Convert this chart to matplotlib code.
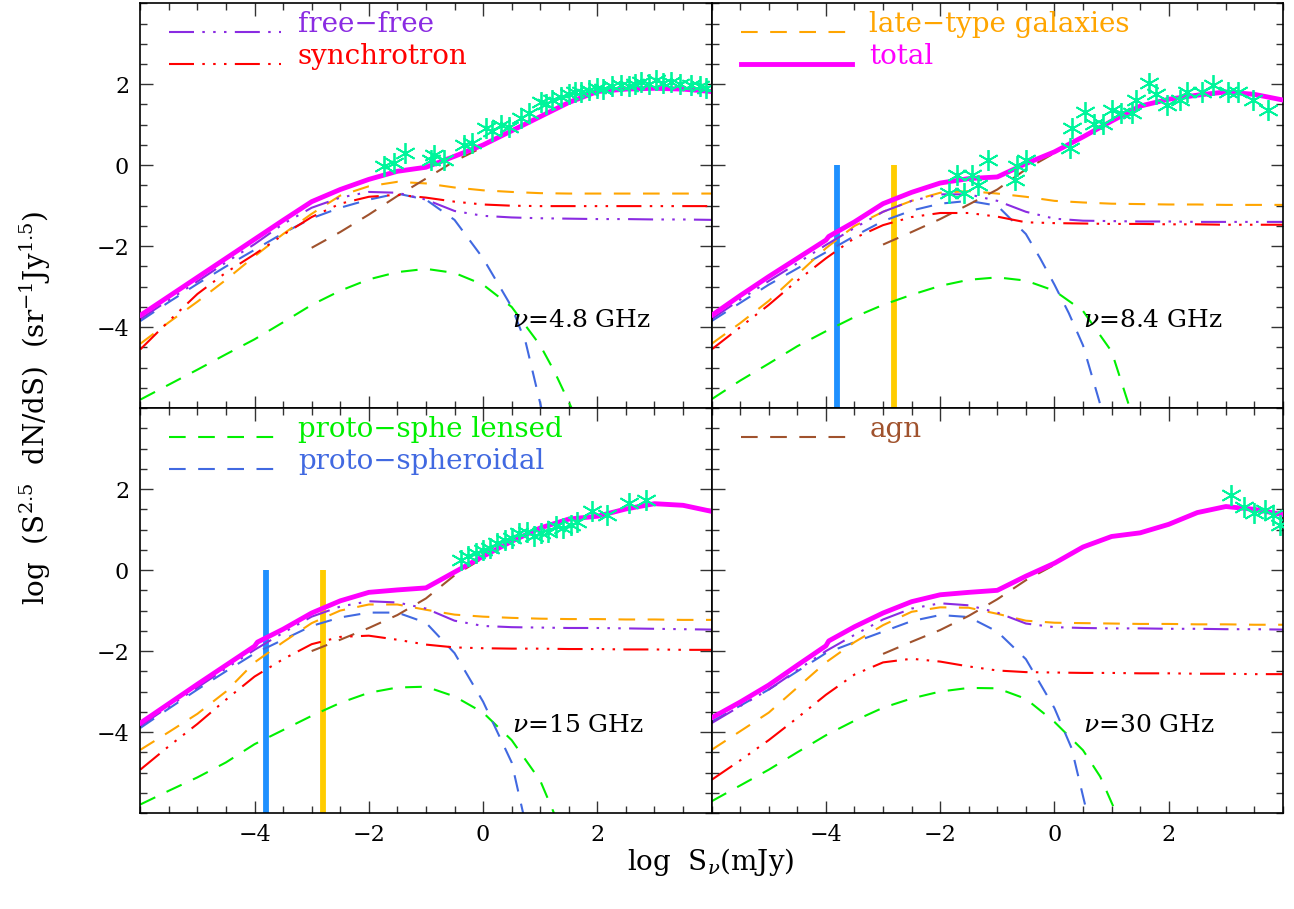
import matplotlib
matplotlib.use("Agg")
import matplotlib.pyplot as plt
from matplotlib.ticker import MultipleLocator

plt.rcParams['font.family'] = ['DejaVu Serif']
plt.rcParams['mathtext.fontset'] = 'dejavuserif'

# common grid (log S in mJy) used by most model curves
xg = [-6, -5.5, -5, -4.5, -4, -3.5, -3, -2.5, -2, -1.5, -1, -0.5, 0,
      0.5, 1, 1.5, 2, 2.5, 3, 3.5, 4]
x_agn = [-3, -2.5, -2, -1.5, -1, -0.5, 0]
bar_x = [-3.8, -2.8]
bar_colors = ['#1E90FF', '#FFCC00']

# ---------------- 4.8 GHz ----------------
x_tot_48 = [-6, -5.5, -5, -4.5, -4, -3.5, -3, -2.5, -2, -1.5, -1, -0.5, 0,
            0.5, 1, 1.5, 2, 2.5, 3, 3.5, 4]
y_tot_48 = [-3.71, -3.24, -2.77, -2.30, -1.83, -1.36, -0.90, -0.60, -0.35,
            -0.15, -0.05, 0.22, 0.50, 0.85, 1.20, 1.55, 1.82, 1.88, 1.90,
            1.88, 1.82]
y_ff_48 = [-3.80, -3.33, -2.87, -2.40, -1.95, -1.45, -1.05, -0.80, -0.66,
           -0.68, -0.85, -1.13, -1.25, -1.29, -1.31, -1.32, -1.33, -1.33,
           -1.34, -1.34, -1.35]
y_syn_48 = [-4.55, -3.85, -3.18, -2.65, -2.20, -1.72, -1.28, -0.95, -0.78,
            -0.73, -0.80, -0.90, -0.97, -1.00, -1.01, -1.01, -1.01, -1.01,
            -1.01, -1.01, -1.01]
y_late_48 = [-4.41, -3.88, -3.37, -2.83, -2.25, -1.70, -1.20, -0.75, -0.52,
             -0.41, -0.45, -0.55, -0.62, -0.66, -0.69, -0.70, -0.70, -0.70,
             -0.70, -0.70, -0.70]
x_sph_48 = [-6, -5.5, -5, -4.5, -4, -3.5, -3, -2.5, -2, -1.5, -1, -0.5, 0,
            0.5, 0.75, 1.02]
y_sph_48 = [-3.85, -3.38, -2.93, -2.50, -2.09, -1.68, -1.31, -1.05, -0.85,
            -0.70, -0.85, -1.35, -2.30, -3.50, -4.40, -6.0]
x_lens_48 = [-6, -5.5, -5, -4.5, -4, -3.5, -3, -2.5, -2, -1.5, -1, -0.5, 0,
             0.5, 1, 1.25, 1.55]
y_lens_48 = [-5.79, -5.42, -5.05, -4.67, -4.30, -3.88, -3.45, -3.10, -2.82,
             -2.64, -2.56, -2.66, -2.95, -3.50, -4.45, -5.10, -6.0]
y_agn_48 = [-2.04, -1.65, -1.22, -0.76, -0.33, 0.10, 0.45]
x_pts_48 = [-1.74, -1.56, -1.36, -0.92, -0.86, -0.68, -0.34, -0.2, 0.05,
            0.15, 0.31, 0.45, 0.66, 0.8, 1.01, 1.1, 1.2, 1.36, 1.5, 1.6,
            1.71, 1.85, 2.0, 2.1, 2.25, 2.42, 2.55, 2.65, 2.77, 2.9, 3.03,
            3.15, 3.29, 3.45, 3.64, 3.8, 3.9]
y_pts_48 = [-0.03, 0.05, 0.30, 0.13, 0.25, 0.13, 0.50, 0.55, 0.92, 0.85,
            0.99, 0.95, 1.16, 1.30, 1.56, 1.50, 1.62, 1.68, 1.75, 1.80,
            1.80, 1.85, 1.90, 1.88, 1.95, 1.98, 1.95, 2.00, 2.05, 2.00, 2.10,
            2.02, 2.05, 2.00, 1.98, 1.95, 1.90]

# ---------------- 8.4 GHz ----------------
x_tot_84 = [-6, -5.5, -5, -4.5, -4, -3.95, -3.5, -3, -2.5, -2, -1.5, -1,
            -0.5, 0, 0.5, 1, 1.5, 2, 2.5, 3, 3.5, 4]
y_tot_84 = [-3.71, -3.22, -2.75, -2.30, -1.85, -1.76, -1.40, -0.95, -0.67,
            -0.44, -0.33, -0.29, 0.04, 0.33, 0.70, 1.09, 1.46, 1.63, 1.73,
            1.81, 1.75, 1.61]
y_ff_84 = [-3.80, -3.32, -2.86, -2.42, -1.97, -1.55, -1.15, -0.88, -0.72,
           -0.72, -0.88, -1.15, -1.32, -1.37, -1.38, -1.39, -1.39, -1.40,
           -1.40, -1.40, -1.40]
y_syn_84 = [-4.55, -4.00, -3.45, -2.85, -2.30, -1.80, -1.48, -1.28, -1.18,
            -1.18, -1.27, -1.41, -1.43, -1.44, -1.45, -1.45, -1.46, -1.46,
            -1.47, -1.47, -1.47]
y_late_84 = [-4.41, -3.90, -3.35, -2.70, -2.05, -1.50, -1.15, -0.88, -0.68,
             -0.64, -0.70, -0.78, -0.88, -0.92, -0.95, -0.96, -0.97, -0.97,
             -0.98, -0.98, -0.98]
x_sph_84 = [-6, -5.5, -5, -4.5, -4, -3.5, -3, -2.5, -2, -1.5, -1, -0.5,
            -0.25, 0, 0.25, 0.5, 0.82]
y_sph_84 = [-3.85, -3.40, -2.95, -2.55, -2.15, -1.75, -1.38, -1.12, -0.95,
            -0.88, -1.00, -1.70, -2.30, -2.95, -3.65, -4.45, -6.0]
x_lens_84 = [-6, -5.5, -5, -4.5, -4, -3.5, -3, -2.5, -2, -1.5, -1, -0.5, 0,
             0.5, 1, 1.32]
y_lens_84 = [-5.78, -5.32, -4.90, -4.47, -4.10, -3.75, -3.45, -3.20, -2.98,
             -2.83, -2.77, -2.85, -3.10, -3.60, -4.60, -6.0]
y_agn_84 = [-1.96, -1.65, -1.33, -0.97, -0.60, -0.10, 0.30]
x_pts_84 = [-1.84, -1.71, -1.58, -1.45, -1.33, -1.17, -0.69, -0.65, -0.49,
            0.27, 0.31, 0.53, 0.69, 0.85, 1.01, 1.17, 1.36, 1.43, 1.65, 1.78,
            1.97, 2.19, 2.32, 2.58, 2.77, 3.03, 3.22, 3.48, 3.73]
y_pts_84 = [-0.69, -0.24, -0.69, -0.24, -0.49, 0.13, -0.36, -0.03, 0.13,
            0.42, 0.91, 1.32, 1.03, 1.03, 1.36, 1.28, 1.28, 1.61, 2.02, 1.77,
            1.49, 1.61, 1.81, 1.81, 1.98, 1.81, 1.81, 1.61, 1.36]

# ---------------- 15 GHz ----------------
x_tot_15 = [-6, -5.5, -5, -4.5, -4, -3.95, -3.5, -3, -2.5, -2, -1.5, -1,
            -0.5, 0, 0.5, 1, 1.5, 2, 2.5, 3, 3.5, 4]
y_tot_15 = [-3.78, -3.30, -2.82, -2.35, -1.88, -1.78, -1.46, -1.06, -0.76,
            -0.55, -0.49, -0.44, -0.05, 0.34, 0.71, 1.04, 1.26, 1.33, 1.51,
            1.64, 1.60, 1.45]
y_ff_15 = [-3.85, -3.37, -2.90, -2.43, -1.97, -1.55, -1.15, -0.90, -0.77,
           -0.80, -0.95, -1.25, -1.38, -1.41, -1.42, -1.43, -1.43, -1.44,
           -1.45, -1.46, -1.47]
y_syn_15 = [-4.93, -4.35, -3.80, -3.20, -2.63, -2.20, -1.83, -1.65, -1.62,
            -1.72, -1.84, -1.91, -1.93, -1.94, -1.94, -1.95, -1.95, -1.96,
            -1.96, -1.97, -1.97]
y_late_15 = [-4.44, -4.00, -3.55, -3.00, -2.28, -1.78, -1.31, -1.00, -0.85,
             -0.85, -0.98, -1.10, -1.15, -1.18, -1.20, -1.21, -1.21, -1.22,
             -1.22, -1.23, -1.23]
x_sph_15 = [-6, -5.5, -5, -4.5, -4, -3.5, -3, -2.5, -2, -1.5, -1, -0.5, 0,
            0.5, 0.7]
y_sph_15 = [-3.90, -3.42, -2.95, -2.50, -2.06, -1.72, -1.38, -1.17, -1.05,
            -1.05, -1.30, -2.05, -3.25, -4.75, -6.0]
x_lens_15 = [-6, -5.5, -5, -4.5, -4, -3.5, -3, -2.5, -2, -1.5, -1, -0.5, 0,
             0.5, 1, 1.24]
y_lens_15 = [-5.79, -5.45, -5.12, -4.75, -4.30, -3.95, -3.60, -3.28, -3.03,
             -2.90, -2.88, -3.12, -3.52, -4.20, -5.20, -6.0]
y_agn_15 = [-2.00, -1.72, -1.43, -1.11, -0.70, -0.13, 0.30]
x_pts_15 = [-0.39, -0.26, -0.13, 0.0, 0.12, 0.25, 0.38, 0.5, 0.63, 0.76,
            0.89, 1.02, 1.14, 1.27, 1.40, 1.53, 1.65, 1.91, 2.16, 2.55, 2.86]
y_pts_15 = [0.26, 0.34, 0.42, 0.50, 0.54, 0.67, 0.75, 0.79, 0.91, 0.95,
            0.83, 0.91, 0.95, 1.08, 1.04, 1.12, 1.20, 1.45, 1.37, 1.65, 1.74]

# ---------------- 30 GHz ----------------
x_tot_30 = [-6, -5.5, -5, -4.5, -4, -3.95, -3.5, -3, -2.5, -2, -1.5, -1,
            -0.5, 0, 0.5, 1, 1.5, 2, 2.5, 3, 3.5, 4]
y_tot_30 = [-3.65, -3.26, -2.84, -2.35, -1.87, -1.75, -1.40, -1.06, -0.78,
            -0.61, -0.55, -0.50, -0.15, 0.17, 0.57, 0.83, 0.92, 1.13, 1.42,
            1.57, 1.50, 1.37]
y_ff_30 = [-3.78, -3.36, -2.95, -2.47, -2.00, -1.60, -1.22, -0.95, -0.82,
           -0.87, -1.05, -1.32, -1.41, -1.43, -1.44, -1.44, -1.45, -1.45,
           -1.46, -1.46, -1.47]
y_syn_30 = [-5.18, -4.70, -4.20, -3.65, -3.08, -2.58, -2.28, -2.19, -2.26,
            -2.38, -2.48, -2.52, -2.53, -2.54, -2.54, -2.55, -2.55, -2.56,
            -2.56, -2.57, -2.57]
y_late_30 = [-4.44, -3.98, -3.52, -2.90, -2.28, -1.78, -1.36, -1.03, -0.92,
             -0.93, -1.08, -1.25, -1.30, -1.31, -1.32, -1.33, -1.33, -1.34,
             -1.34, -1.35, -1.35]
x_sph_30 = [-6, -5.5, -5, -4.5, -4, -3.5, -3, -2.5, -2, -1.5, -1, -0.5, 0,
            0.3, 0.57]
y_sph_30 = [-3.74, -3.35, -2.95, -2.50, -2.05, -1.78, -1.52, -1.26, -1.11,
            -1.16, -1.52, -2.20, -3.41, -4.40, -6.0]
x_lens_30 = [-6, -5.5, -5, -4.5, -4, -3.5, -3, -2.5, -2, -1.5, -1, -0.5, 0,
             0.5, 0.8, 1.08]
y_lens_30 = [-5.71, -5.32, -4.93, -4.50, -4.08, -3.72, -3.40, -3.17, -3.00,
             -2.91, -2.92, -3.18, -3.75, -4.45, -5.10, -6.0]
y_agn_30 = [-2.07, -1.77, -1.48, -1.13, -0.72, -0.25, 0.13]
x_pts_30 = [3.09, 3.31, 3.5, 3.69, 3.82, 3.95]
y_pts_30 = [1.86, 1.57, 1.41, 1.49, 1.37, 1.12]

panels = [
    dict(nu=r'$\nu$=4.8 GHz', xt=x_tot_48, yt=y_tot_48, ff=y_ff_48, syn=y_syn_48,
         late=y_late_48, xs=x_sph_48, ys=y_sph_48, xl=x_lens_48, yl=y_lens_48,
         agn=y_agn_48, xp=x_pts_48, yp=y_pts_48, bars=False),
    dict(nu=r'$\nu$=8.4 GHz', xt=x_tot_84, yt=y_tot_84, ff=y_ff_84, syn=y_syn_84,
         late=y_late_84, xs=x_sph_84, ys=y_sph_84, xl=x_lens_84, yl=y_lens_84,
         agn=y_agn_84, xp=x_pts_84, yp=y_pts_84, bars=True),
    dict(nu=r'$\nu$=15 GHz', xt=x_tot_15, yt=y_tot_15, ff=y_ff_15, syn=y_syn_15,
         late=y_late_15, xs=x_sph_15, ys=y_sph_15, xl=x_lens_15, yl=y_lens_15,
         agn=y_agn_15, xp=x_pts_15, yp=y_pts_15, bars=True),
    dict(nu=r'$\nu$=30 GHz', xt=x_tot_30, yt=y_tot_30, ff=y_ff_30, syn=y_syn_30,
         late=y_late_30, xs=x_sph_30, ys=y_sph_30, xl=x_lens_30, yl=y_lens_30,
         agn=y_agn_30, xp=x_pts_30, yp=y_pts_30, bars=False),
]

c_ff = '#8A2BE2'
c_syn = '#FF0000'
c_late = '#FFA500'
c_tot = '#FF00FF'
c_lens = '#00F000'
c_sph = '#4169E1'
c_agn = '#A0522D'
c_pts = '#00F59B'

dash = (8, 6)
dotdash = (12, 4, 1.2, 4, 1.2, 4, 1.2, 4)

# legend entries per panel: (label, colour, dashes or None)
legends = [
    [('free\u2212free', c_ff, dotdash), ('synchrotron', c_syn, dotdash)],
    [('late\u2212type galaxies', c_late, dash), ('total', c_tot, None)],
    [('proto\u2212sphe lensed', c_lens, dash), ('proto\u2212spheroidal', c_sph, dash)],
    [('agn', c_agn, dash)],
]

fig = plt.figure(figsize=(12.94, 9.09), dpi=100)
gs = fig.add_gridspec(2, 2, left=0.1084, right=0.9915, top=0.9964,
                      bottom=0.1056, wspace=0, hspace=0)

for i, p in enumerate(panels):
    ax = fig.add_subplot(gs[i // 2, i % 2])
    ax.set_xlim(-6, 4)
    ax.set_ylim(-6, 4)

    if p['bars']:
        for bx, bc in zip(bar_x, bar_colors):
            ax.plot([bx, bx], [-6, 0], color=bc, lw=4.2, solid_capstyle='butt', zorder=2)

    ax.plot(p['xl'], p['yl'], color=c_lens, lw=1.5, dashes=dash)
    ax.plot(p['xs'], p['ys'], color=c_sph, lw=1.5, dashes=dash)
    ax.plot(xg, p['late'], color=c_late, lw=1.5, dashes=dash)
    ax.plot(x_agn, p['agn'], color=c_agn, lw=1.5, dashes=dash)
    ax.plot(xg, p['syn'], color=c_syn, lw=1.5, dashes=dotdash)
    ax.plot(xg, p['ff'], color=c_ff, lw=1.5, dashes=dotdash)
    ax.plot(p['xt'], p['yt'], color=c_tot, lw=3.5, zorder=4)
    ax.plot(p['xp'], p['yp'], ls='none', marker=(6, 2, 0), ms=15, mew=1.3,
            color=c_pts, zorder=5)

    ax.text(0.5, -4.0, p['nu'], fontsize=18, ha='left', va='baseline')

    for k, (lab, col, ds) in enumerate(legends[i]):
        yy = (0.930 if i < 2 else 0.928) - k * 0.079
        if ds is None:
            ax.plot([0.051, 0.246], [yy, yy], transform=ax.transAxes,
                    color=col, lw=3.5)
        else:
            ax.plot([0.051, 0.246], [yy, yy], transform=ax.transAxes,
                    color=col, lw=1.5, dashes=ds)
        ax.text(0.276, yy, lab, transform=ax.transAxes, color=col,
                fontsize=20, ha='left', va='baseline')

    ax.xaxis.set_major_locator(MultipleLocator(2))
    ax.xaxis.set_minor_locator(MultipleLocator(0.5))
    ax.yaxis.set_major_locator(MultipleLocator(2))
    ax.yaxis.set_minor_locator(MultipleLocator(0.5))
    ax.tick_params(which='both', direction='in', top=True, right=True,
                   labelsize=16, width=1.0, colors='#333333', labelcolor='black')
    ax.tick_params(which='major', length=9, pad=8)
    ax.tick_params(which='minor', length=5)
    ax.set_xticks([-4, -2, 0, 2])
    ax.set_yticks([-4, -2, 0, 2])
    if i < 2:
        ax.tick_params(labelbottom=False)
    if i % 2 == 1:
        ax.tick_params(labelleft=False)
    for s in ax.spines.values():
        s.set_linewidth(1.2)

fig.text(0.027, 0.551, r'log  (S$^{2.5}$  dN/dS)  (sr$^{-1}$Jy$^{1.5}$)',
         rotation=90, fontsize=20, ha='center', va='center')
fig.text(0.5495, 0.052, r'log  S$_\nu$(mJy)', fontsize=20, ha='center', va='center')

fig.savefig('out.png', dpi=100)
